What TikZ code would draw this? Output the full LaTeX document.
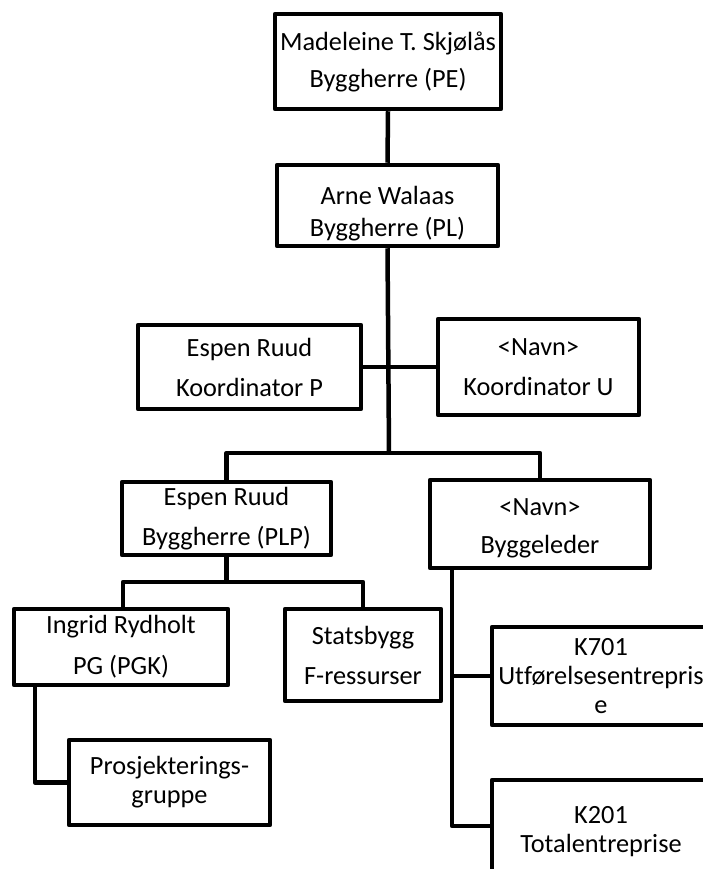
\documentclass[tikz,border=0pt]{standalone}
\usepackage{fontspec}
\setmainfont{Carlito}[Ligatures=CommonOff]
\begin{document}
\begin{tikzpicture}[x=1pt,y=-1pt,
  orgbox/.style={draw=black, line width=4.5pt, fill=white, align=center, inner sep=0pt,
    font=\fontsize{26.3}{29}\selectfont, line join=round},
  link/.style={draw=black, line width=4.5pt, line join=round}]
\clip (0,0) rectangle (703,869);
\fill[white] (0,0) rectangle (703,869);
% nodes
\node[orgbox, minimum width=226pt, minimum height=95pt] (pe) at (388,61.5) {Madeleine T. Skjølås\\[8pt]Byggherre (PE)};
\node[orgbox, minimum width=221pt, minimum height=81pt] (pl) at (387.5,205.5) {\rule{0pt}{34pt}Arne Walaas\\[3pt]Byggherre (PL)};
\node[orgbox, minimum width=223pt, minimum height=84pt] (kp) at (249.5,367) {Espen Ruud\\[11pt]Koordinator P};
\node[orgbox, minimum width=201pt, minimum height=96pt] (ku) at (538.5,367) {<Navn>\\[11pt]Koordinator U};
\node[orgbox, minimum width=209pt, minimum height=73pt] (plp) at (226.5,518.5) {Espen Ruud\\[11pt]Byggherre (PLP)};
\node[orgbox, minimum width=220pt, minimum height=88pt] (bl) at (540,524) {\rule{0pt}{26pt}<Navn>\\[9pt]Byggeleder};
\node[orgbox, minimum width=214pt, minimum height=76pt] (ir) at (121,647) {Ingrid Rydholt\\[12pt]PG (PGK)};
\node[orgbox, minimum width=156pt, minimum height=92pt] (sb) at (363,655) {Statsbygg\\[11pt]F-ressurser};
\node[orgbox, minimum width=201pt, minimum height=85pt] (pg) at (169.5,782.5) {Prosjekterings-\\gruppe};
\node[orgbox, minimum width=218pt, minimum height=98pt] (k7) at (601,676) {K701\\Utførelsesentrepris\\e};
\node[orgbox, minimum width=218pt, minimum height=92pt] (k2) at (601,826) {\rule{0pt}{28pt}K201\\Totalentreprise};
% junctions
\coordinate (j1) at (389,453);
\coordinate (j2) at (226.5,582);
% connectors
\draw[link] (pe.south) -- (pl.north);
\draw[link] (pl.south) -- (j1);
\draw[link] (kp.east) -- (ku.west);
\draw[link] (plp.north) |- (j1) -| (bl.north);
\draw[link] (plp.south) -- (j2);
\draw[link] ([xshift=2pt]ir.north) |- (j2) -| (sb.north);
\draw[link] ([xshift=-86pt]ir.south) |- (pg.west);
\draw[link] ([xshift=-88pt]bl.south) |- (k2.west);
\draw[link] ([xshift=-88pt]bl.south) |- (k7.west);
\end{tikzpicture}
\end{document}
